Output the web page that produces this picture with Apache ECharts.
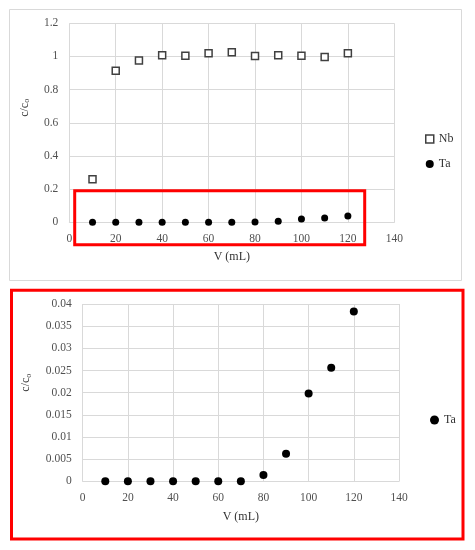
<!DOCTYPE html>
<html>
<head>
<meta charset="utf-8">
<script src="https://cdn.jsdelivr.net/npm/echarts@6/dist/echarts.min.js"></script>
<style>html,body{margin:0;padding:0;background:#fff}#c{width:475px;height:550px}</style>
</head>
<body>
<div id="c"></div>
<script>
const volumes = [10, 20, 30, 40, 50, 60, 70, 80, 90, 100, 110, 120];
const nbValues = [0.259, 0.914, 0.975, 1.007, 1.005, 1.019, 1.025, 1.003, 1.007, 1.005, 0.997, 1.019];
const taValues = [0, 0, 0, 0, 0, 0, 0, 0.0014, 0.0062, 0.0198, 0.0256, 0.0383];
const xTicks = [0, 20, 40, 60, 80, 100, 120, 140];
const yTicksTop = [0, 0.2, 0.4, 0.6, 0.8, 1, 1.2];
const yTicksBottom = [0, 0.005, 0.01, 0.015, 0.02, 0.025, 0.03, 0.035, 0.04];

const FONT = 'Liberation Serif';
const grey = '#505050';
const gridC = '#d9d9d9';
const pairs = (ys) => volumes.map((v, i) => [v, ys[i]]);

function xAx(idx, gap) {
  return {
    type: 'value', gridIndex: idx, min: xTicks[0], max: xTicks[xTicks.length - 1],
    interval: xTicks[1] - xTicks[0],
    name: 'V (mL)', nameLocation: 'middle', nameGap: gap,
    nameTextStyle: { fontFamily: FONT, fontSize: 12, color: '#333' },
    axisLine: { show: true, lineStyle: { color: gridC } },
    axisTick: { show: false },
    axisLabel: { fontFamily: FONT, fontSize: 11.5, color: grey, margin: 11 },
    splitLine: { show: true, lineStyle: { color: gridC } }
  };
}
function yAx(idx, ticks, gap, pad) {
  return {
    type: 'value', gridIndex: idx, min: ticks[0], max: ticks[ticks.length - 1],
    interval: ticks[1] - ticks[0],
    name: 'c/c{s|o}', nameLocation: 'middle', nameGap: gap, nameRotate: 90,
    nameTextStyle: { fontFamily: FONT, fontSize: 12, color: '#333', padding: pad,
      rich: { s: { fontFamily: FONT, fontSize: 8, color: '#333', verticalAlign: 'bottom', padding: [5, 0, 0, 0] } } },
    axisLine: { show: false },
    axisTick: { show: false },
    axisLabel: { fontFamily: FONT, fontSize: 11.5, color: grey, margin: 11 },
    splitLine: { show: true, lineStyle: { color: gridC } }
  };
}

const chart = echarts.init(document.getElementById('c'), null, { renderer: 'canvas' });
chart.setOption({
  animation: false,
  backgroundColor: '#fff',
  grid: [
    { left: 69.3, top: 23.3, width: 325, height: 199 },
    { left: 82.7, top: 304, width: 316.3, height: 177.3 }
  ],
  xAxis: [xAx(0, 29), xAx(1, 30)],
  yAxis: [yAx(0, yTicksTop, 38, [0, 0, 0, 30]), yAx(1, yTicksBottom, 50, [0, 0, 0, 20])],
  legend: [
    {
      orient: 'vertical', left: 420, top: 128, itemWidth: 8, itemHeight: 8, itemGap: 13,
      textStyle: { fontFamily: FONT, fontSize: 12, color: '#333' },
      data: [
        { name: 'Nb', icon: 'rect', itemStyle: { color: '#fff', borderColor: '#404040', borderWidth: 1.5, opacity: 1 } },
        { name: 'Ta', icon: 'circle', itemStyle: { color: '#000', opacity: 1 } }
      ]
    },
    {
      orient: 'vertical', left: 425, top: 409, itemWidth: 9, itemHeight: 9,
      textStyle: { fontFamily: FONT, fontSize: 12, color: '#333' },
      data: [{ name: 'Ta', icon: 'circle', itemStyle: { color: '#000', opacity: 1 } }]
    }
  ],
  series: [
    { name: 'Nb', type: 'scatter', xAxisIndex: 0, yAxisIndex: 0, symbol: 'rect', symbolSize: 7,
      itemStyle: { color: '#fff', borderColor: '#404040', borderWidth: 1.5, opacity: 1 }, data: pairs(nbValues) },
    { name: 'Ta', type: 'scatter', xAxisIndex: 0, yAxisIndex: 0, symbol: 'circle', symbolSize: 7,
      itemStyle: { color: '#000', opacity: 1 }, data: pairs(taValues) },
    { name: 'Ta', type: 'scatter', xAxisIndex: 1, yAxisIndex: 1, symbol: 'circle', symbolSize: 8,
      itemStyle: { color: '#000', opacity: 1 }, data: pairs(taValues) }
  ],
  graphic: [
    { type: 'rect', silent: true, z: -1, shape: { x: 9.5, y: 9.5, width: 452, height: 271 },
      style: { fill: 'none', stroke: '#d9d9d9', lineWidth: 1 } },
    { type: 'rect', silent: true, z: 100, shape: { x: 74.7, y: 190.7, width: 290, height: 54 },
      style: { fill: 'none', stroke: '#ff0000', lineWidth: 3 } },
    { type: 'rect', silent: true, z: 100, shape: { x: 11.5, y: 290.3, width: 451.5, height: 248.7 },
      style: { fill: 'none', stroke: '#ff0000', lineWidth: 3 } }
  ]
});
</script>
</body>
</html>
